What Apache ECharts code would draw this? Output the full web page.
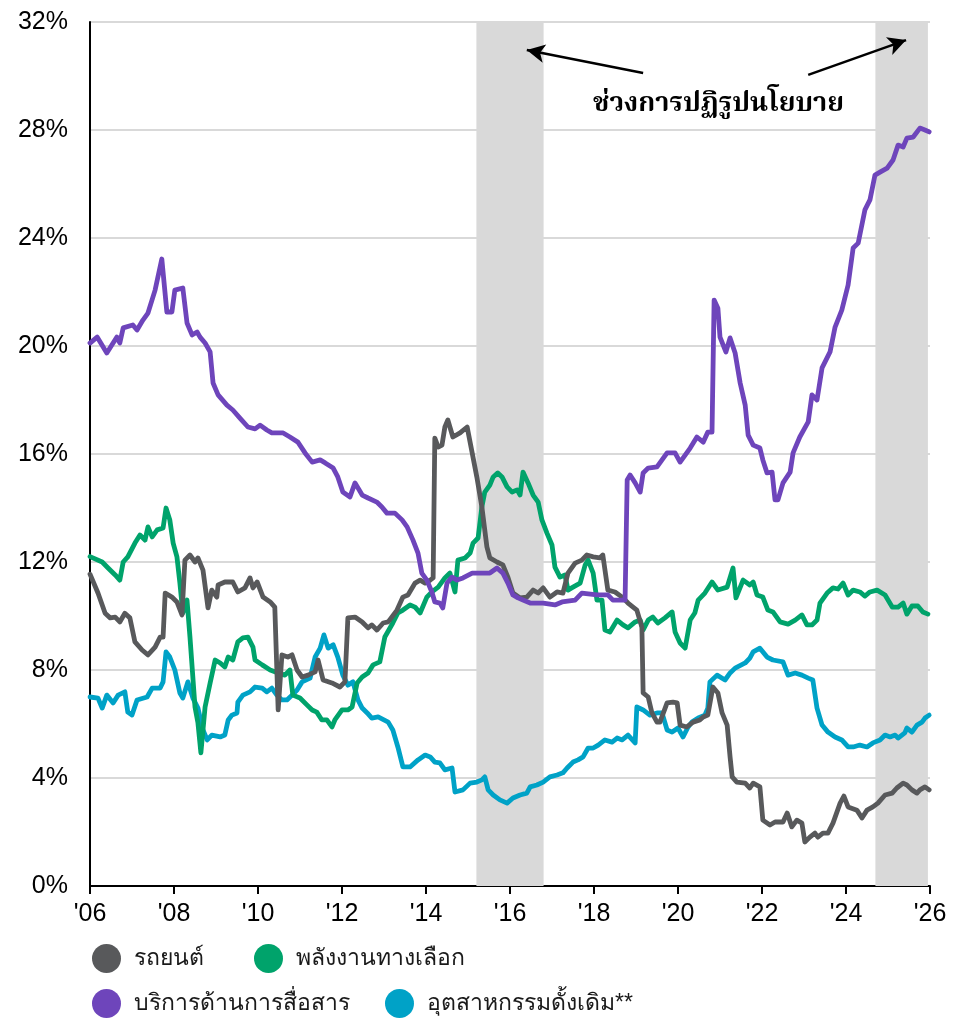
<!DOCTYPE html>
<html><head><meta charset="utf-8">
<script src="https://cdn.jsdelivr.net/npm/echarts@6/dist/echarts.min.js"></script>
<style>html,body{margin:0;padding:0;background:#fff}#c{width:966px;height:1020px}</style>
</head><body><div id="c"></div>
<script>
const seriesNames = ['รถยนต์', 'พลังงานทางเลือก', 'บริการด้านการสื่อสาร', 'อุตสาหกรรมดั้งเดิม**'];
const annotationText = 'ช่วงการปฏิรูปนโยบาย';
const reformPeriods = [[2015.2, 2016.8], [2024.7, 2025.95]];
const arrows = [[[2019.17, 30.11], [2016.40, 30.96]], [[2023.10, 30.04], [2025.43, 31.33]]];

const autoData = [
[2006.0,11.55],[2006.19,10.85],[2006.36,10.1],[2006.48,9.93],[2006.6,9.96],[2006.71,9.78],[2006.83,10.1],[2006.95,9.93],
[2007.07,9.04],[2007.24,8.74],[2007.38,8.56],[2007.55,8.85],[2007.67,9.22],[2007.74,9.22],[2007.79,10.85],[2007.95,10.7],
[2008.07,10.52],[2008.19,10.04],[2008.26,12.07],[2008.38,12.26],[2008.5,12.0],[2008.57,12.15],[2008.69,11.7],[2008.81,10.3],
[2008.9,10.96],[2009.02,10.7],[2009.05,11.15],[2009.21,11.26],[2009.4,11.26],[2009.52,10.89],[2009.69,11.04],[2009.81,11.41],
[2009.88,11.04],[2009.98,11.26],[2010.12,10.7],[2010.29,10.52],[2010.4,10.33],[2010.48,6.52],[2010.57,8.56],[2010.71,8.48],
[2010.81,8.56],[2010.93,8.0],[2011.05,7.74],[2011.19,7.81],[2011.36,7.93],[2011.43,8.37],[2011.55,7.63],[2011.76,7.52],
[2011.95,7.37],[2012.07,7.56],[2012.14,9.93],[2012.31,9.96],[2012.48,9.78],[2012.62,9.56],[2012.71,9.67],[2012.83,9.48],
[2012.98,9.74],[2013.1,9.78],[2013.31,10.22],[2013.45,10.7],[2013.57,10.78],[2013.74,11.22],[2013.86,11.33],[2013.98,11.22],
[2014.1,11.33],[2014.17,11.41],[2014.21,16.59],[2014.29,16.26],[2014.38,16.33],[2014.45,17.0],[2014.52,17.26],[2014.64,16.63],
[2014.81,16.78],[2014.98,17.0],[2015.1,16.04],[2015.21,15.15],[2015.33,14.04],[2015.45,12.56],[2015.52,12.15],[2015.69,12.0],
[2015.83,11.89],[2015.95,11.44],[2016.07,10.85],[2016.24,10.67],[2016.4,10.7],[2016.55,10.96],[2016.67,10.85],[2016.79,11.04],
[2016.95,10.7],[2017.12,10.89],[2017.26,10.85],[2017.38,11.59],[2017.55,11.96],[2017.71,12.07],[2017.83,12.26],[2017.98,12.19],
[2018.14,12.15],[2018.21,12.26],[2018.33,10.96],[2018.5,10.89],[2018.67,10.7],[2018.81,10.48],[2019.02,10.22],[2019.14,9.59],
[2019.17,7.15],[2019.29,7.0],[2019.38,6.41],[2019.5,6.07],[2019.57,6.07],[2019.74,6.78],[2019.88,6.81],[2019.98,6.78],
[2020.05,5.96],[2020.21,5.89],[2020.36,6.07],[2020.52,6.15],[2020.6,6.26],[2020.71,6.33],[2020.83,7.37],[2020.95,7.15],
[2021.05,6.41],[2021.17,5.96],[2021.24,4.78],[2021.29,4.04],[2021.4,3.85],[2021.6,3.81],[2021.71,3.63],[2021.79,3.81],
[2021.95,3.67],[2022.02,2.44],[2022.19,2.26],[2022.31,2.37],[2022.5,2.37],[2022.6,2.7],[2022.71,2.19],[2022.83,2.44],
[2022.95,2.33],[2023.02,1.63],[2023.14,1.81],[2023.26,1.96],[2023.33,1.81],[2023.45,1.96],[2023.57,1.96],[2023.69,2.33],
[2023.86,3.07],[2023.95,3.33],[2024.05,2.93],[2024.26,2.81],[2024.38,2.52],[2024.5,2.81],[2024.64,2.93],[2024.76,3.07],
[2024.93,3.37],[2025.1,3.44],[2025.21,3.63],[2025.36,3.81],[2025.45,3.74],[2025.57,3.56],[2025.69,3.44],[2025.76,3.56],
[2025.88,3.67],[2025.98,3.56]
];

const altEnergyData = [
[2006.0,12.2],[2006.29,12.0],[2006.43,11.78],[2006.6,11.52],[2006.71,11.33],[2006.79,12.0],[2006.9,12.19],[2007.07,12.7],
[2007.19,13.0],[2007.31,12.81],[2007.38,13.3],[2007.48,12.93],[2007.6,13.19],[2007.74,13.26],[2007.81,14.0],[2007.9,13.56],
[2007.98,12.7],[2008.07,12.19],[2008.14,11.22],[2008.21,10.11],[2008.31,10.59],[2008.38,9.22],[2008.5,6.63],[2008.57,6.04],
[2008.64,4.93],[2008.74,6.63],[2008.86,7.52],[2008.98,8.37],[2009.1,8.26],[2009.21,8.11],[2009.29,8.48],[2009.4,8.37],
[2009.52,9.04],[2009.64,9.19],[2009.76,9.22],[2009.88,8.85],[2009.93,8.37],[2010.1,8.19],[2010.29,8.0],[2010.48,7.89],
[2010.64,7.81],[2010.76,8.0],[2010.83,7.07],[2011.0,6.96],[2011.17,6.7],[2011.29,6.52],[2011.4,6.44],[2011.52,6.15],
[2011.64,6.15],[2011.76,5.89],[2011.83,6.15],[2012.0,6.52],[2012.14,6.52],[2012.24,6.63],[2012.36,7.52],[2012.48,7.74],
[2012.62,7.89],[2012.74,8.19],[2012.9,8.3],[2013.02,9.22],[2013.21,9.74],[2013.33,10.11],[2013.45,10.22],[2013.62,10.41],
[2013.74,10.33],[2013.86,10.11],[2014.02,10.7],[2014.14,10.89],[2014.29,11.07],[2014.45,11.41],[2014.57,11.59],[2014.69,10.89],
[2014.76,12.07],[2014.93,12.15],[2015.05,12.33],[2015.12,12.7],[2015.24,12.89],[2015.33,14.04],[2015.4,14.59],[2015.52,14.85],
[2015.6,15.15],[2015.71,15.3],[2015.81,15.15],[2015.93,14.78],[2016.05,14.59],[2016.17,14.67],[2016.24,14.48],[2016.31,15.33],
[2016.43,14.93],[2016.55,14.48],[2016.67,14.22],[2016.76,13.56],[2016.88,13.07],[2017.0,12.63],[2017.07,11.81],[2017.19,11.44],
[2017.31,11.52],[2017.38,10.96],[2017.5,11.07],[2017.67,11.22],[2017.79,11.89],[2017.86,12.07],[2017.98,11.59],[2018.07,10.59],
[2018.19,10.59],[2018.26,9.48],[2018.38,9.41],[2018.55,9.85],[2018.69,9.67],[2018.81,9.56],[2018.98,9.78],[2019.1,9.85],
[2019.17,9.48],[2019.29,9.85],[2019.4,9.96],[2019.52,9.74],[2019.69,9.93],[2019.86,10.15],[2019.93,9.41],[2020.05,9.0],
[2020.17,8.81],[2020.29,9.85],[2020.4,10.11],[2020.48,10.59],[2020.64,10.85],[2020.81,11.26],[2020.95,10.96],[2021.17,11.07],
[2021.31,11.78],[2021.38,10.67],[2021.55,11.33],[2021.71,11.15],[2021.79,11.26],[2021.88,10.78],[2022.02,10.7],[2022.14,10.22],
[2022.26,10.15],[2022.43,9.78],[2022.62,9.7],[2022.79,9.85],[2022.95,10.04],[2023.07,9.67],[2023.19,9.67],[2023.31,9.85],
[2023.38,10.48],[2023.55,10.85],[2023.69,11.04],[2023.81,11.0],[2023.93,11.22],[2024.05,10.78],[2024.17,10.96],[2024.33,10.89],
[2024.45,10.74],[2024.57,10.89],[2024.74,10.96],[2024.93,10.78],[2025.1,10.33],[2025.24,10.33],[2025.36,10.48],[2025.45,10.07],
[2025.57,10.37],[2025.71,10.37],[2025.83,10.15],[2025.95,10.07]
];

const telecomData = [
[2006.0,20.11],[2006.17,20.33],[2006.4,19.74],[2006.52,20.04],[2006.64,20.33],[2006.71,20.11],[2006.79,20.67],[2007.02,20.78],
[2007.12,20.59],[2007.26,20.96],[2007.38,21.22],[2007.55,22.07],[2007.71,23.22],[2007.83,21.26],[2007.95,21.26],[2008.02,22.07],
[2008.21,22.15],[2008.31,20.85],[2008.43,20.41],[2008.55,20.52],[2008.62,20.33],[2008.74,20.11],[2008.86,19.78],[2008.93,18.63],
[2009.05,18.19],[2009.26,17.81],[2009.4,17.63],[2009.57,17.33],[2009.76,17.0],[2009.93,16.93],[2010.05,17.07],[2010.21,16.89],
[2010.33,16.78],[2010.6,16.78],[2010.76,16.63],[2010.95,16.44],[2011.12,16.04],[2011.29,15.7],[2011.48,15.78],[2011.6,15.67],
[2011.79,15.48],[2011.9,15.15],[2012.02,14.59],[2012.19,14.41],[2012.31,14.93],[2012.48,14.48],[2012.62,14.37],[2012.83,14.22],
[2012.95,14.04],[2013.07,13.81],[2013.26,13.81],[2013.43,13.56],[2013.55,13.3],[2013.69,12.81],[2013.81,12.33],[2013.9,11.59],
[2014.02,11.33],[2014.14,10.89],[2014.21,10.52],[2014.33,10.48],[2014.4,10.3],[2014.5,11.22],[2014.62,11.44],[2014.74,11.33],
[2014.88,11.41],[2015.1,11.59],[2015.36,11.59],[2015.52,11.59],[2015.69,11.78],[2015.83,11.59],[2015.95,11.22],[2016.07,10.78],
[2016.19,10.67],[2016.31,10.59],[2016.48,10.48],[2016.79,10.48],[2017.07,10.41],[2017.24,10.52],[2017.55,10.59],[2017.71,10.85],
[2018.07,10.78],[2018.33,10.78],[2018.45,10.59],[2018.74,10.59],[2018.79,15.04],[2018.86,15.22],[2018.98,14.93],[2019.1,14.59],
[2019.17,15.3],[2019.29,15.48],[2019.5,15.52],[2019.62,15.78],[2019.74,16.04],[2019.93,16.04],[2020.05,15.7],[2020.17,15.96],
[2020.29,16.22],[2020.45,16.63],[2020.6,16.44],[2020.71,16.81],[2020.81,16.81],[2020.86,21.7],[2020.95,21.4],[2021.0,20.33],
[2021.14,19.78],[2021.24,20.3],[2021.36,19.74],[2021.48,18.63],[2021.6,17.81],[2021.67,16.7],[2021.79,16.33],[2021.95,16.22],
[2022.02,15.78],[2022.12,15.3],[2022.24,15.33],[2022.31,14.3],[2022.38,14.3],[2022.5,14.93],[2022.67,15.33],[2022.74,16.04],
[2022.9,16.63],[2023.1,17.19],[2023.19,18.19],[2023.31,18.0],[2023.43,19.19],[2023.62,19.78],[2023.74,20.7],[2023.9,21.33],
[2024.05,22.26],[2024.17,23.63],[2024.29,23.81],[2024.45,25.04],[2024.57,25.41],[2024.69,26.33],[2024.81,26.44],[2024.98,26.59],
[2025.12,26.89],[2025.24,27.44],[2025.36,27.37],[2025.45,27.7],[2025.6,27.74],[2025.76,28.07],[2025.88,28.0],[2025.98,27.93]
];

const tradData = [
[2006.0,7.0],[2006.19,6.96],[2006.29,6.59],[2006.4,7.07],[2006.55,6.78],[2006.67,7.07],[2006.83,7.19],[2006.9,6.44],
[2007.0,6.33],[2007.12,6.89],[2007.36,7.0],[2007.48,7.33],[2007.67,7.33],[2007.74,7.56],[2007.81,8.67],[2007.9,8.48],
[2008.02,8.0],[2008.14,7.15],[2008.21,6.96],[2008.33,7.56],[2008.45,6.96],[2008.57,6.59],[2008.69,5.78],[2008.79,5.41],
[2008.9,5.59],[2009.1,5.52],[2009.21,5.59],[2009.29,6.15],[2009.38,6.33],[2009.5,6.41],[2009.52,6.81],[2009.64,7.07],
[2009.81,7.19],[2009.93,7.37],[2010.1,7.33],[2010.21,7.19],[2010.33,7.33],[2010.45,7.07],[2010.57,6.89],[2010.69,6.89],
[2010.81,7.07],[2010.93,7.26],[2011.05,7.56],[2011.24,7.7],[2011.36,8.48],[2011.48,8.81],[2011.57,9.3],[2011.67,8.81],
[2011.79,8.93],[2011.9,8.48],[2012.02,7.81],[2012.14,7.44],[2012.26,7.56],[2012.38,6.89],[2012.48,6.59],[2012.6,6.41],
[2012.71,6.22],[2012.86,6.26],[2013.1,6.07],[2013.21,5.78],[2013.33,5.15],[2013.45,4.41],[2013.62,4.41],[2013.81,4.67],
[2013.98,4.85],[2014.1,4.78],[2014.21,4.59],[2014.33,4.56],[2014.45,4.3],[2014.62,4.37],[2014.69,3.48],[2014.88,3.56],
[2015.05,3.81],[2015.21,3.85],[2015.33,3.93],[2015.4,4.04],[2015.48,3.56],[2015.6,3.37],[2015.76,3.19],[2015.93,3.07],
[2016.07,3.26],[2016.24,3.37],[2016.4,3.44],[2016.48,3.67],[2016.64,3.74],[2016.79,3.85],[2016.95,4.04],[2017.12,4.11],
[2017.26,4.19],[2017.36,4.37],[2017.5,4.59],[2017.62,4.67],[2017.74,4.78],[2017.86,5.11],[2017.98,5.11],[2018.1,5.22],
[2018.26,5.41],[2018.43,5.33],[2018.55,5.48],[2018.67,5.41],[2018.81,5.59],[2018.98,5.3],[2019.02,6.63],[2019.17,6.52],
[2019.33,6.33],[2019.5,6.41],[2019.62,6.41],[2019.74,5.78],[2019.86,5.7],[2020.0,5.85],[2020.12,5.52],[2020.24,5.89],
[2020.33,6.07],[2020.48,6.22],[2020.64,6.33],[2020.71,6.59],[2020.76,7.56],[2020.93,7.81],[2021.12,7.63],[2021.24,7.89],
[2021.36,8.07],[2021.6,8.26],[2021.71,8.44],[2021.79,8.67],[2021.95,8.81],[2022.12,8.48],[2022.26,8.37],[2022.5,8.3],
[2022.62,7.81],[2022.79,7.89],[2022.95,7.81],[2023.1,7.7],[2023.21,7.63],[2023.31,6.59],[2023.43,5.96],[2023.57,5.7],
[2023.74,5.52],[2023.9,5.41],[2024.05,5.15],[2024.17,5.15],[2024.33,5.22],[2024.5,5.15],[2024.64,5.3],[2024.81,5.41],
[2024.93,5.59],[2025.05,5.52],[2025.17,5.59],[2025.24,5.48],[2025.4,5.67],[2025.45,5.85],[2025.57,5.7],[2025.69,5.96],
[2025.81,6.07],[2025.88,6.22],[2025.98,6.33]
];

const colors = ['#58595b', '#00a36b', '#6e45bb', '#00a2c7'];
const font = '"Liberation Sans", Arial, sans-serif';
const chart = echarts.init(document.getElementById('c'), null, {renderer: 'canvas'});

function lineSeries(name, data, color, z) {
  return {
    name, type: 'line', data, z, showSymbol: false, symbol: 'circle',
    lineStyle: {color, width: 4.8, join: 'round', cap: 'round'},
    itemStyle: {color}, emphasis: {disabled: true}, silent: true
  };
}
function legendAt(name, left, top) {
  return {
    data: [name], left, top, icon: 'circle', itemWidth: 29, itemHeight: 29,
    selectedMode: false,
    textStyle: {fontSize: 23, color: '#1a1a1a', fontFamily: font, padding: [0, 0, 0, 8]}
  };
}

chart.setOption({
  animation: false,
  backgroundColor: '#fff',
  grid: {left: 90, right: 36, top: 22, bottom: 134, containLabel: false},
  xAxis: {
    type: 'value', min: 2006, max: 2026, interval: 2,
    axisLine: {show: true, lineStyle: {color: '#000', width: 2}},
    axisTick: {show: true, length: 8, lineStyle: {color: '#000', width: 2}},
    axisLabel: {formatter: v => "'" + String(v).slice(2), fontSize: 25, color: '#000', fontFamily: font, margin: 16},
    splitLine: {show: false}
  },
  yAxis: {
    type: 'value', min: 0, max: 32, interval: 4,
    axisLine: {show: true, lineStyle: {color: '#000', width: 2}},
    axisTick: {show: false},
    axisLabel: {formatter: v => v + '%', fontSize: 25, color: '#000', fontFamily: font, margin: 22},
    splitLine: {show: true, lineStyle: {color: '#d9d9d9', width: 2}}
  },
  legend: [
    legendAt(seriesNames[0], 87, 939),
    legendAt(seriesNames[1], 249, 939),
    legendAt(seriesNames[2], 87, 984),
    legendAt(seriesNames[3], 380, 984)
  ],
  graphic: [{
    type: 'text', left: 593, top: 93, silent: true,
    style: {text: annotationText, fontSize: 27, fontWeight: 'bold', fill: '#000',
      fontFamily: '"Noto Serif Thai", "Noto Sans Thai", "Tlwg Typo", serif'}
  }],
  series: [
    {
      name: 'reform', type: 'line', data: [], z: 1, silent: true,
      markArea: {silent: true, itemStyle: {color: '#d9d9d9'},
        data: reformPeriods.map(p => [{xAxis: p[0]}, {xAxis: p[1]}])},
      markLine: {silent: true, symbol: ['none', 'arrow'], symbolSize: [14, 18],
        lineStyle: {color: '#000', width: 2.5, type: 'solid'}, label: {show: false},
        data: arrows.map(a => [{coord: a[0]}, {coord: a[1]}])}
    },
    lineSeries(seriesNames[3], tradData, colors[3], 3),
    lineSeries(seriesNames[1], altEnergyData, colors[1], 4),
    lineSeries(seriesNames[0], autoData, colors[0], 5),
    lineSeries(seriesNames[2], telecomData, colors[2], 6)
  ]
});
</script>
</body></html>
